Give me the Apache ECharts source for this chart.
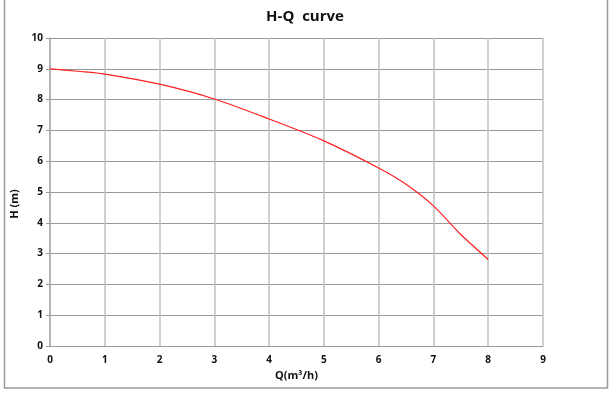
<!DOCTYPE html>
<html><head><meta charset="utf-8">
<script src="https://cdn.jsdelivr.net/npm/echarts@6/dist/echarts.min.js"></script>
<style>html,body{margin:0;padding:0;background:#fff}#c{width:610px;height:393px}</style>
</head><body><div id="c"></div>
<script>
const flow = [0, 0.5, 1, 2, 3, 4, 5, 6, 6.5, 7, 7.5, 8];
const head = [9.0, 8.92, 8.83, 8.5, 8.02, 7.37, 6.66, 5.78, 5.25, 4.55, 3.62, 2.81];
const titleText = 'H-Q  curve';
const xName = 'Q(m³/h)';
const yName = 'H (m)';
const font = '"Open Sans", sans-serif';
const chart = echarts.init(document.getElementById('c'), null, {renderer: 'canvas'});
chart.setOption({
  animation: false,
  backgroundColor: '#fff',
  title: {text: titleText, left: 'center', top: 4, textStyle: {fontFamily: font, fontWeight: 'bold', fontSize: 15, color: '#111'}},
  graphic: [
    {type: 'rect', shape: {x: 4.5, y: -5, width: 603, height: 393}, style: {fill: 'none', stroke: '#9a9a9a', lineWidth: 1.5}, silent: true},
    {type: 'text', x: 15, y: 204, rotation: Math.PI / 2, style: {text: yName, font: 'bold 11px "Open Sans", sans-serif', fill: '#111', align: 'center', verticalAlign: 'middle'}, silent: true}
  ],
  grid: {left: 50, right: 67, top: 38, bottom: 47},
  xAxis: {
    type: 'value', min: 0, max: 9, interval: 1,
    name: xName, nameLocation: 'middle', nameGap: 21,
    nameTextStyle: {fontFamily: font, fontWeight: 'bold', fontSize: 11, color: '#111'},
    axisLine: {show: true, lineStyle: {color: '#999', width: 1}},
    axisTick: {show: false},
    axisLabel: {fontFamily: font, fontWeight: 'bold', fontSize: 10, color: '#111', margin: 9},
    splitLine: {show: true, lineStyle: {color: '#c0c0c0', width: 1.5}}
  },
  yAxis: {
    type: 'value', min: 0, max: 10, interval: 1,
    axisLine: {show: true, lineStyle: {color: '#aaa', width: 1.5}},
    axisTick: {show: true, length: 4, lineStyle: {color: '#999'}},
    axisLabel: {fontFamily: font, fontWeight: 'bold', fontSize: 10, color: '#111', margin: 7},
    splitLine: {show: true, lineStyle: {color: '#999', width: 1}}
  },
  series: [{
    type: 'line', data: flow.map((q, i) => [q, head[i]]),
    smooth: 0.3, showSymbol: false, symbol: 'none',
    lineStyle: {color: '#ff2020', width: 1.2}
  }]
});
</script></body></html>
